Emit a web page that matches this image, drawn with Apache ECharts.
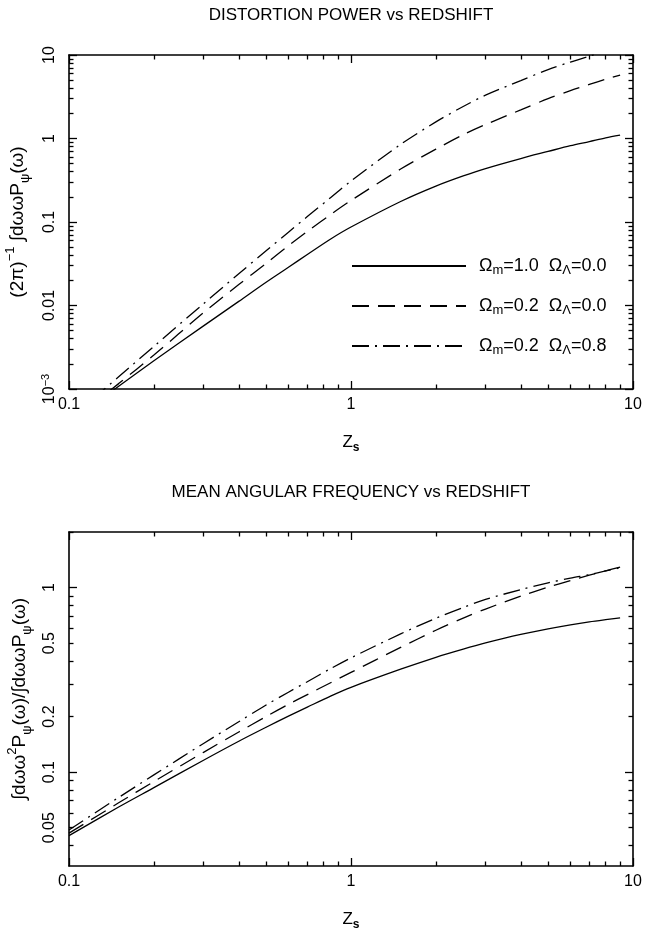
<!DOCTYPE html>
<html>
<head>
<meta charset="utf-8">
<script src="https://cdn.jsdelivr.net/npm/echarts@6/dist/echarts.min.js"></script>
<style>
html,body{margin:0;padding:0;background:#fff;}
#chart{width:659px;height:931px;}
</style>
</head>
<body>
<div id="chart"></div>
<script>
// ---- data ----
const zValues = [0.1, 0.15, 0.2, 0.3, 0.4, 0.5, 0.6, 0.7, 0.85, 1, 1.5, 2, 2.5, 3, 4, 5, 6, 7, 8, 9];

// top panel: (2pi)^-1 ∫dω ω P_psi(ω)
const powerOm10L00 = [0.00039, 0.00108, 0.00218, 0.0057, 0.0112, 0.0190, 0.0287, 0.0408, 0.0630, 0.0870, 0.176, 0.269, 0.356, 0.437, 0.576, 0.70, 0.82, 0.92, 1.02, 1.10];
const powerOm02L00 = [0.00039, 0.00116, 0.00255, 0.0082, 0.0178, 0.032, 0.052, 0.077, 0.124, 0.181, 0.431, 0.745, 1.11, 1.47, 2.2, 3.0, 3.75, 4.45, 5.12, 5.76];
const powerOm02L08 = [0.00043, 0.0014, 0.00324, 0.0105, 0.024, 0.0453, 0.0755, 0.116, 0.198, 0.31, 0.85, 1.58, 2.42, 3.3, 4.94, 6.68, 8.24, 9.68, 11.1, 12.4];

// bottom panel: mean angular frequency
const freqOm10L00 = [0.0453, 0.0647, 0.0824, 0.116, 0.147, 0.175, 0.201, 0.225, 0.259, 0.288, 0.361, 0.419, 0.464, 0.501, 0.557, 0.597, 0.628, 0.652, 0.670, 0.685];
const freqOm02L00 = [0.0467, 0.0682, 0.0889, 0.128, 0.165, 0.200, 0.233, 0.263, 0.306, 0.347, 0.474, 0.587, 0.683, 0.765, 0.899, 1.005, 1.092, 1.167, 1.232, 1.29];
const freqOm02L08 = [0.0486, 0.0729, 0.0966, 0.143, 0.1875, 0.231, 0.271, 0.309, 0.365, 0.416, 0.561, 0.682, 0.78, 0.862, 0.975, 1.06, 1.125, 1.175, 1.23, 1.28];

const seriesNames = ['Ωm=1.0 ΩΛ=0.0', 'Ωm=0.2 ΩΛ=0.0', 'Ωm=0.2 ΩΛ=0.8'];
const legendRich = ['{p|}{b|Ω}{s|m}{b|=1.0  Ω}{s|Λ}{b|=0.0}', '{p|}{b|Ω}{s|m}{b|=0.2  Ω}{s|Λ}{b|=0.0}', '{p|}{b|Ω}{s|m}{b|=0.2  Ω}{s|Λ}{b|=0.8}'];

const titles = ['DISTORTION POWER vs REDSHIFT', 'MEAN ANGULAR FREQUENCY vs REDSHIFT'];
const xTickLabels = [0.1, 1, 10];
const topYTickLabels = [0.001, 0.01, 0.1, 1, 10];
const bottomYTickLabels = [0.05, 0.1, 0.2, 0.5, 1];
const xRange = [0.1, 10];
const topYRange = [0.001, 10];
const bottomYRange = [0.031, 2];

// ---- helpers ----
const FONT = '"Liberation Sans", Arial, Helvetica, sans-serif';
function decadeTicks(min, max) { // major (powers of ten) and minor (k*10^n) tick positions
  const major = [], minor = [];
  for (let e = Math.floor(Math.log10(min)) - 1; e <= Math.ceil(Math.log10(max)); e++) {
    for (let k = 1; k <= 9; k++) {
      const v = +(k * Math.pow(10, e)).toPrecision(6);
      if (v < min * 0.9999 || v > max * 1.0001) continue;
      (k === 1 ? major : minor).push(v);
    }
  }
  return { major, minor };
}
const lineStyles = [
  { color: '#000', width: 1.3, type: 'solid' },
  { color: '#000', width: 1.3, type: [17, 9] },
  { color: '#000', width: 1.3, type: [17, 6, 2, 6] }
];
const richAxisLabel = {
  n: { fontSize: 16, fontFamily: FONT, color: '#000', lineHeight: 20 },
  sup: { fontSize: 11, fontFamily: FONT, color: '#000', verticalAlign: 'top', lineHeight: 12 }
};
function fmtTick(v) {
  if (Math.abs(v - 0.001) < 1e-9) return '{n|10}{sup|−3}';
  return '{n|' + (+v.toPrecision(6)) + '}';
}
const tickLine = { color: '#000', width: 1.3 };

function axisSet(dim, gridIndex, range, labels, nameOpt) {
  const t = decadeTicks(range[0], range[1]);
  const posA = dim === 'x' ? 'bottom' : 'left';
  const posB = dim === 'x' ? 'top' : 'right';
  const base = {
    type: 'log', logBase: 10, gridIndex, min: range[0], max: range[1],
    splitLine: { show: false }, silent: true
  };
  const axes = [];
  // main axis: labels and major (decade) ticks
  axes.push(Object.assign({}, base, {
    position: posA,
    axisLine: { show: true, onZero: false, lineStyle: { color: '#000', width: 1.6 } },
    axisTick: { show: true, inside: true, length: 8, customValues: t.major, lineStyle: tickLine },
    axisLabel: {
      show: true, customValues: labels, margin: dim === 'x' ? 6 : 9, rotate: dim === 'x' ? 0 : 90,
      formatter: fmtTick, rich: richAxisLabel, color: '#000', fontFamily: FONT, fontSize: 16
    }
  }, nameOpt || {}));
  // minor ticks on the same side
  axes.push(Object.assign({}, base, {
    position: posA,
    axisLine: { show: false, onZero: false },
    axisTick: { show: true, inside: true, length: 4.5, customValues: t.minor, lineStyle: tickLine },
    axisLabel: { show: false }
  }));
  // mirrored ticks on the opposite side
  axes.push(Object.assign({}, base, {
    position: posB,
    axisLine: { show: true, onZero: false, lineStyle: { color: '#000', width: 1.6 } },
    axisTick: { show: true, inside: true, length: 8, customValues: t.major, lineStyle: tickLine },
    axisLabel: { show: false }
  }));
  axes.push(Object.assign({}, base, {
    position: posB,
    axisLine: { show: false, onZero: false },
    axisTick: { show: true, inside: true, length: 4.5, customValues: t.minor, lineStyle: tickLine },
    axisLabel: { show: false }
  }));
  return axes;
}

const xName = {
  name: '{z|Z}{s|s}', nameLocation: 'middle', nameGap: 41,
  nameTextStyle: {
    rich: {
      z: { fontSize: 17, fontFamily: FONT, color: '#000', lineHeight: 24 },
      s: { fontSize: 12, fontFamily: FONT, fontWeight: 'bold', color: '#000', verticalAlign: 'bottom', lineHeight: 14 }
    }
  }
};
const yNameRich = {
  t: { fontSize: 19, fontFamily: FONT, color: '#000', lineHeight: 28 },
  sup: { fontSize: 13, fontFamily: FONT, color: '#000', verticalAlign: 'top', lineHeight: 14 },
  sub: { fontSize: 13, fontFamily: FONT, color: '#000', verticalAlign: 'bottom', lineHeight: 14 }
};
const topYName = {
  name: '{t|(2π)}{sup|−1}{t| ∫dωωP}{sub|ψ}{t|(ω)}', nameLocation: 'middle', nameRotate: 90, nameGap: 31,
  nameTextStyle: { rich: yNameRich }
};
const bottomYName = {
  name: '{t|∫dωω}{sup|2}{t|P}{sub|ψ}{t|(ω)/∫dωωP}{sub|ψ}{t|(ω)}', nameLocation: 'middle', nameRotate: 90, nameGap: 31,
  nameTextStyle: { rich: yNameRich }
};

const xAxes = [].concat(
  axisSet('x', 0, xRange, xTickLabels, xName),
  axisSet('x', 1, xRange, xTickLabels, xName)
);
const yAxes = [].concat(
  axisSet('y', 0, topYRange, topYTickLabels, topYName),
  axisSet('y', 1, bottomYRange, bottomYTickLabels, bottomYName)
);

function mkSeries(name, values, idx, axisIndex) {
  return {
    name, type: 'line', xAxisIndex: axisIndex, yAxisIndex: axisIndex,
    data: zValues.map((z, i) => [z, values[i]]),
    symbol: 'none', showSymbol: false, smooth: 0.3, clip: true,
    lineStyle: lineStyles[idx], itemStyle: { color: '#000' }, silent: true
  };
}

const option = {
  backgroundColor: '#fff',
  animation: false,
  title: titles.map((txt, i) => ({
    text: txt, left: 351, textAlign: 'center', top: i === 0 ? 6 : 483,
    padding: 0,
    textStyle: { fontFamily: FONT, fontSize: 17, fontWeight: 'normal', color: '#000', lineHeight: 19 }
  })),
  grid: [
    { left: 69, top: 55, width: 564, height: 334, outerBoundsMode: 'none', containLabel: false },
    { left: 69, top: 532, width: 564, height: 334, outerBoundsMode: 'none', containLabel: false }
  ],
  legend: {
    data: seriesNames, orient: 'vertical', left: 346, top: 252,
    itemWidth: 114, itemHeight: 22, itemGap: 20, selectedMode: false,
    itemStyle: { opacity: 0 },
    formatter: name => legendRich[seriesNames.indexOf(name)],
    textStyle: {
      color: '#000',
      rich: {
        p: { width: 8 },
        b: { fontSize: 18, fontFamily: FONT, color: '#000', lineHeight: 22 },
        s: { fontSize: 13, fontFamily: FONT, color: '#000', verticalAlign: 'bottom', lineHeight: 12 }
      }
    }
  },
  xAxis: xAxes,
  yAxis: yAxes,
  series: [
    mkSeries(seriesNames[0], powerOm10L00, 0, 0),
    mkSeries(seriesNames[1], powerOm02L00, 1, 0),
    mkSeries(seriesNames[2], powerOm02L08, 2, 0),
    mkSeries(seriesNames[0], freqOm10L00, 0, 4),
    mkSeries(seriesNames[1], freqOm02L00, 1, 4),
    mkSeries(seriesNames[2], freqOm02L08, 2, 4)
  ]
};

const chart = echarts.init(document.getElementById('chart'), null, { renderer: 'canvas' });
chart.setOption(option);
</script>
</body>
</html>
